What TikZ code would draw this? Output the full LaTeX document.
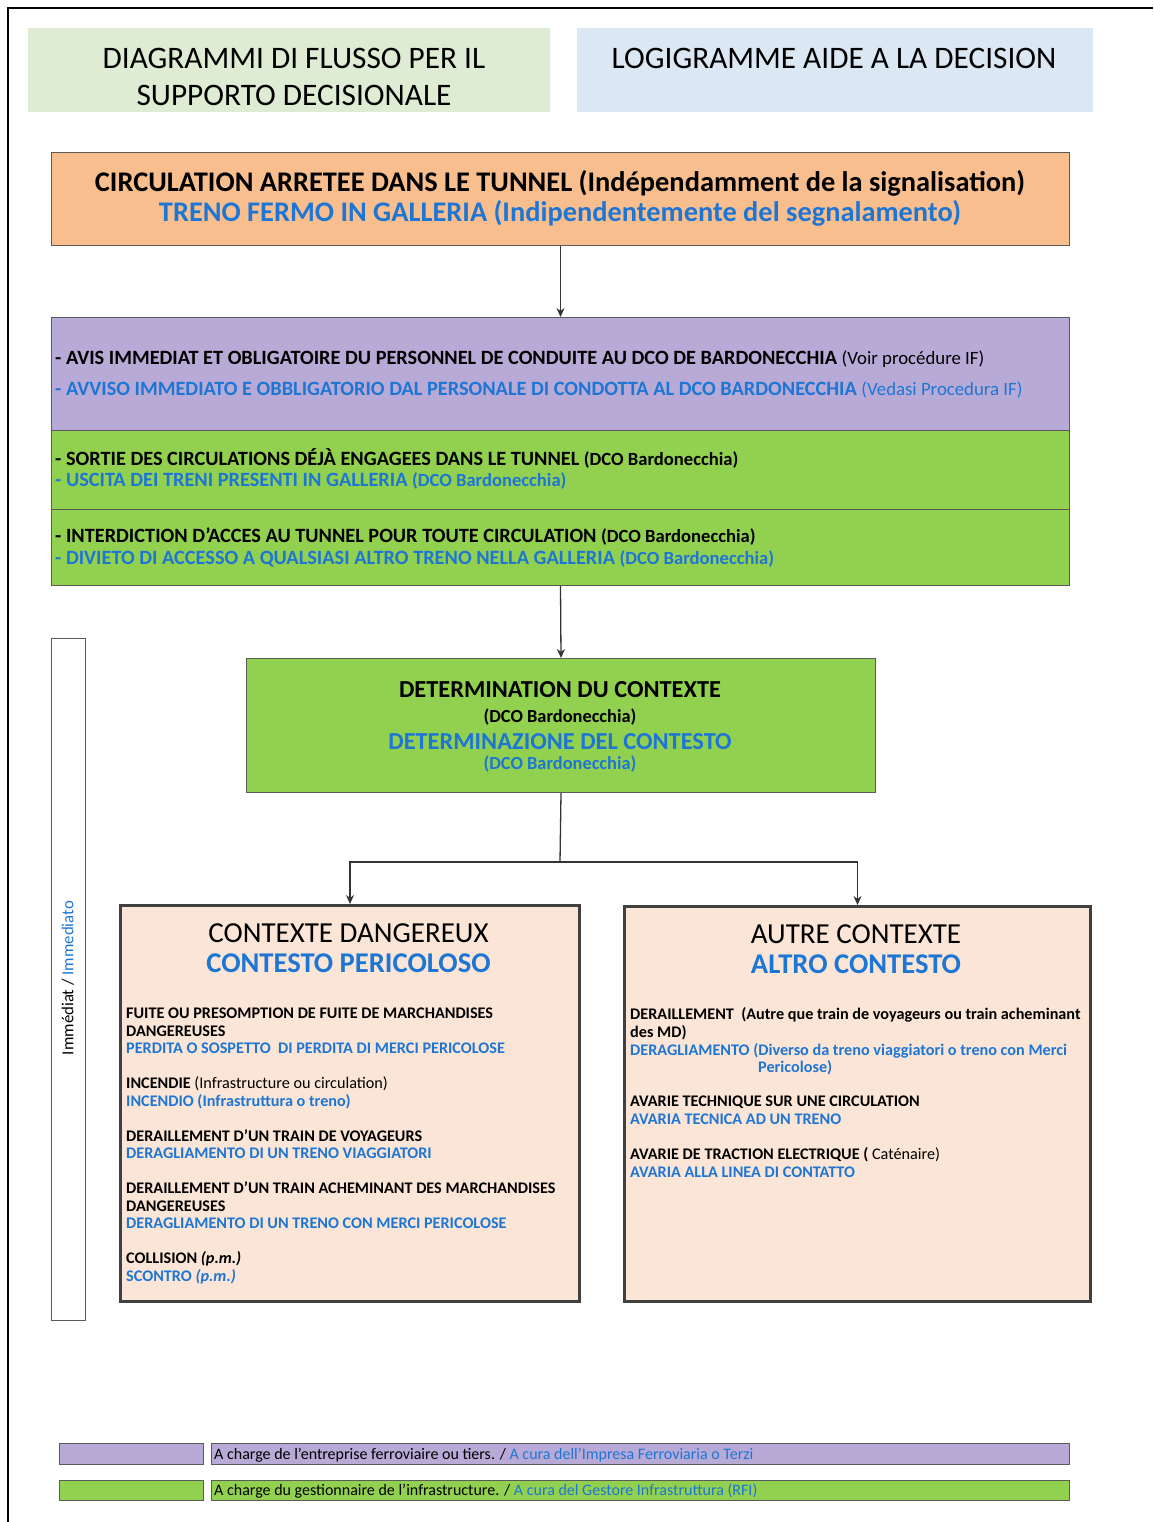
\documentclass[tikz,border=0pt]{standalone}
\usepackage{fontspec}
\setmainfont{Carlito}
\usetikzlibrary{arrows.meta}
\definecolor{itblue}{RGB}{30,118,212}
\definecolor{hdrgreen}{RGB}{222,236,212}
\definecolor{hdrblue}{RGB}{220,231,244}
\definecolor{boxorange}{RGB}{248,190,142}
\definecolor{boxpurple}{RGB}{184,170,214}
\definecolor{boxgreen}{RGB}{146,208,80}
\definecolor{boxpeach}{RGB}{251,229,214}
\definecolor{edgegray}{RGB}{90,90,90}
\newcommand{\fs}[1]{\fontsize{#1}{#1}\selectfont}
\tikzset{
  panel/.style={draw=edgegray, line width=1pt, inner sep=0pt, anchor=north west},
  ctxbox/.style={draw=black!75, line width=3pt, fill=boxpeach, inner sep=0pt, anchor=north west},
  lbl/.style={inner sep=0pt, anchor=base west},
  clbl/.style={inner sep=0pt, anchor=base},
  arr/.style={draw=black!80, line width=1.3pt, -{Stealth[length=9pt,width=8pt]}},
  lnk/.style={draw=black!80, line width=1.3pt},
}
\begin{document}
\begin{tikzpicture}[x=1pt,y=-1pt]
\useasboundingbox (0,0) rectangle (1153,1522);
% page frame
\draw[line width=2pt] (8,1522) -- (8,8) -- (1153,8);

% header banners
\node[fill=hdrgreen, minimum width=522pt, minimum height=84pt, inner sep=0pt, anchor=north west] (hdrIt) at (28,28) {};
\node[fill=hdrblue, minimum width=516pt, minimum height=84pt, inner sep=0pt, anchor=north west] (hdrFr) at (577,28) {};
\node[clbl, font=\fs{31.3}] (hdrIt1) at (294,69) {DIAGRAMMI DI FLUSSO PER IL};
\node[clbl, font=\fs{31.3}] (hdrIt2) at (294,106) {SUPPORTO DECISIONALE};
\node[clbl, font=\fs{31.3}] (hdrFr1) at (834,69) {LOGIGRAMME AIDE A LA DECISION};

% event box
\node[panel, fill=boxorange, minimum width=1018pt, minimum height=93pt] (event) at (51,152) {};
\node[clbl, font=\fs{28.4}\bfseries] (event1) at (560,192) {CIRCULATION ARRETEE DANS LE TUNNEL (Indépendamment de la signalisation)};
\node[clbl, font=\fs{28.4}\bfseries, text=itblue] (event2) at (560,222) {TRENO FERMO IN GALLERIA (Indipendentemente del segnalamento)};

% first actions
\node[panel, fill=boxpurple, minimum width=1018pt, minimum height=113pt] (notify) at (51,317) {};
\node[lbl, font=\fs{20.3}\bfseries] (notify1) at (55,364.5) {- AVIS IMMEDIAT ET OBLIGATOIRE DU PERSONNEL DE CONDUITE AU DCO DE BARDONECCHIA {\fs{18.8}\mdseries(Voir procédure IF)}};
\node[lbl, font=\fs{20.3}\bfseries, text=itblue] (notify2) at (55,395.5) {- AVVISO IMMEDIATO E OBBLIGATORIO DAL PERSONALE DI CONDOTTA AL DCO BARDONECCHIA {\fs{18.8}\mdseries(Vedasi Procedura IF)}};

\node[panel, fill=boxgreen, minimum width=1018pt, minimum height=79pt] (exit) at (51,430) {};
\node[lbl, font=\fs{20.3}\bfseries] (exit1) at (55,465.5) {- SORTIE DES CIRCULATIONS DÉJÀ ENGAGEES DANS LE TUNNEL {\fs{18.6}(DCO Bardonecchia)}};
\node[lbl, font=\fs{20.3}\bfseries, text=itblue] (exit2) at (55,486.5) {- USCITA DEI TRENI PRESENTI IN GALLERIA {\fs{18.6}(DCO Bardonecchia)}};

\node[panel, fill=boxgreen, minimum width=1018pt, minimum height=76pt] (ban) at (51,509) {};
\node[lbl, font=\fs{20.3}\bfseries] (ban1) at (55,542.5) {- INTERDICTION D’ACCES AU TUNNEL POUR TOUTE CIRCULATION {\fs{18.6}(DCO Bardonecchia)}};
\node[lbl, font=\fs{20.3}\bfseries, text=itblue] (ban2) at (55,564.5) {- DIVIETO DI ACCESSO A QUALSIASI ALTRO TRENO NELLA GALLERIA {\fs{18.6}(DCO Bardonecchia)}};

% context determination
\node[panel, fill=boxgreen, minimum width=629pt, minimum height=134pt] (ctx) at (246,658) {};
\node[clbl, font=\fs{24.4}\bfseries] (ctx1) at (560,697) {DETERMINATION DU CONTEXTE};
\node[clbl, font=\fs{18.4}\bfseries] (ctx2) at (560,722) {(DCO Bardonecchia)};
\node[clbl, font=\fs{24.4}\bfseries, text=itblue] (ctx3) at (560,749) {DETERMINAZIONE DEL CONTESTO};
\node[clbl, font=\fs{18.4}\bfseries, text=itblue] (ctx4) at (560,769) {(DCO Bardonecchia)};

% time band
\node[draw=edgegray, line width=1pt, fill=white, minimum width=34pt, minimum height=682pt, inner sep=0pt, anchor=north west] (band) at (51,638) {};
\node[inner sep=0pt, rotate=90, font=\fs{16.8}] (bandtxt) at (68,978) {Immédiat / \textcolor{itblue}{Immediato}};

% dangerous context
\node[ctxbox, minimum width=459pt, minimum height=396pt] (danger) at (119,904) {};
\node[clbl, font=\fs{29}] (danger1) at (348.5,942) {CONTEXTE DANGEREUX};
\node[clbl, font=\fs{28.6}\bfseries, text=itblue] (danger2) at (348.5,972) {CONTESTO PERICOLOSO};
\begin{scope}[every node/.style={lbl, font=\fs{16.2}\bfseries}]
\node (d1a) at (126,1018) {FUITE OU PRESOMPTION DE FUITE DE MARCHANDISES};
\node (d1b) at (126,1036) {DANGEREUSES};
\node[text=itblue] (d1c) at (126,1053) {PERDITA O SOSPETTO \ DI PERDITA DI MERCI PERICOLOSE};
\node (d2a) at (126,1088) {INCENDIE {\mdseries(Infrastructure ou circulation)}};
\node[text=itblue] (d2b) at (126,1106) {INCENDIO (Infrastruttura o treno)};
\node (d3a) at (126,1141) {DERAILLEMENT D’UN TRAIN DE VOYAGEURS};
\node[text=itblue] (d3b) at (126,1158) {DERAGLIAMENTO DI UN TRENO VIAGGIATORI};
\node (d4a) at (126,1193) {DERAILLEMENT D’UN TRAIN ACHEMINANT DES MARCHANDISES};
\node (d4b) at (126,1211) {DANGEREUSES};
\node[text=itblue] (d4c) at (126,1228) {DERAGLIAMENTO DI UN TRENO CON MERCI PERICOLOSE};
\node (d5a) at (126,1263) {COLLISION {\itshape(p.m.)}};
\node[text=itblue] (d5b) at (126,1281) {SCONTRO {\itshape(p.m.)}};
\end{scope}

% other context
\node[ctxbox, minimum width=466pt, minimum height=395pt] (other) at (623,905) {};
\node[clbl, font=\fs{29}] (other1) at (856,943) {AUTRE CONTEXTE};
\node[clbl, font=\fs{28.6}\bfseries, text=itblue] (other2) at (856,973) {ALTRO CONTESTO};
\begin{scope}[every node/.style={lbl, font=\fs{16.2}\bfseries}]
\node (o1a) at (630,1019) {DERAILLEMENT \ (Autre que train de voyageurs ou train acheminant};
\node (o1b) at (630,1037) {des MD)};
\node[text=itblue] (o1c) at (630,1055) {DERAGLIAMENTO (Diverso da treno viaggiatori o treno con Merci};
\node[text=itblue] (o1d) at (758,1072) {Pericolose)};
\node (o2a) at (630,1106) {AVARIE TECHNIQUE SUR UNE CIRCULATION};
\node[text=itblue] (o2b) at (630,1124) {AVARIA TECNICA AD UN TRENO};
\node (o3a) at (630,1159) {AVARIE DE TRACTION ELECTRIQUE ( {\mdseries Caténaire)}};
\node[text=itblue] (o3b) at (630,1177) {AVARIA ALLA LINEA DI CONTATTO};
\end{scope}

% legend
\node[panel, fill=boxpurple, minimum width=144pt, minimum height=21pt] (keyP) at (59,1443) {};
\node[panel, fill=boxpurple, minimum width=858pt, minimum height=21pt] (keyPbar) at (211,1443) {};
\node[lbl, font=\fs{16}] (keyPtxt) at (214,1459) {A charge de l’entreprise ferroviaire ou tiers. / \textcolor{itblue}{A cura dell’Impresa Ferroviaria o Terzi}};
\node[panel, fill=boxgreen, minimum width=144pt, minimum height=20pt] (keyG) at (59,1480) {};
\node[panel, fill=boxgreen, minimum width=858pt, minimum height=20pt] (keyGbar) at (211,1480) {};
\node[lbl, font=\fs{16}] (keyGtxt) at (214,1495) {A charge du gestionnaire de l’infrastructure. / \textcolor{itblue}{A cura del Gestore Infrastruttura (RFI)}};

% connectors
\draw[arr] (event.south) -- (notify.north);
\draw[arr] (ban.south) -- (ctx.north);
\coordinate (split) at (560,862);
\draw[lnk] (ctx.south) -- (split);
\draw[arr] (split) -| (danger.north);
\draw[arr] (split) -| (other.north);
\end{tikzpicture}
\end{document}
